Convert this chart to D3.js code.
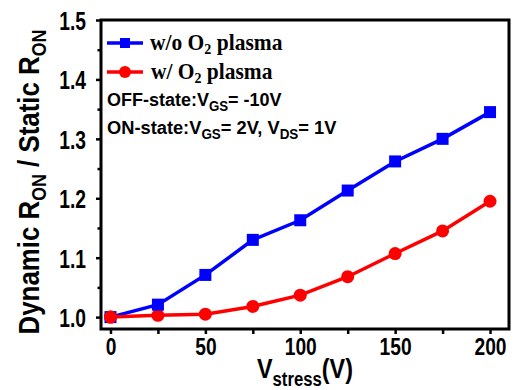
<!DOCTYPE html>
<html><head><meta charset="utf-8">
<script src="https://cdn.jsdelivr.net/npm/d3@7"></script>
<style>body{margin:0;background:#fff} svg{display:block}</style>
</head><body><svg id="chart" width="518" height="390"></svg>
<script>
// Stress voltage (V) and normalised dynamic on-resistance for both devices
const stressV   = [0, 25, 50, 75, 100, 125, 150, 175, 200];
const withoutO2 = [1.000, 1.021, 1.071, 1.130, 1.163, 1.213, 1.262, 1.300, 1.345];
const withO2    = [1.000, 1.003, 1.005, 1.018, 1.037, 1.068, 1.107, 1.145, 1.195];

const xTicks      = [0, 25, 50, 75, 100, 125, 150, 175, 200];
const xTickLabels = ["0", "", "50", "", "100", "", "150", "", "200"];
const yTicks      = [1.0, 1.05, 1.1, 1.15, 1.2, 1.25, 1.3, 1.35, 1.4, 1.45, 1.5];
const yTickLabels = ["1.0", "", "1.1", "", "1.2", "", "1.3", "", "1.4", "", "1.5"];

const seriesNames = ["w/o O", "w/ O"];

const svg = d3.select("#chart");
const L = 101, T = 20, R = 509, B = 329;

const x = d3.scaleLinear().domain([-5, 210]).range([L, R]);
const y = d3.scaleLinear().domain([0.98, 1.5]).range([B, T]);

const sans = "'Liberation Sans', Arial, sans-serif";
const serif = "'Liberation Serif', 'Times New Roman', serif";

// squeeze a single-run text element horizontally
function squeeze(sel, factor) {
  sel.each(function () {
    const w = this.getComputedTextLength();
    if (w > 0) d3.select(this).attr("textLength", w * factor).attr("lengthAdjust", "spacingAndGlyphs");
  });
}
// scale a multi-run text horizontally so it spans the given width, pivoting on ax
function fitWidth(t, width, ax) {
  const w = t.node().getBBox().width;
  const s = width / w;
  t.attr("transform", `translate(${ax},0) scale(${s},1) translate(${-ax},0)`);
}

// x axis
const xAxis = svg.append("g").attr("transform", `translate(0,${B})`)
  .call(d3.axisBottom(x).tickValues(xTicks).tickSize(5).tickPadding(4)
    .tickFormat((d, i) => xTickLabels[i]));
xAxis.select(".domain").remove();
xAxis.selectAll(".tick line").attr("stroke", "#000").attr("stroke-width", 2.5);
xAxis.selectAll(".tick text").attr("font-family", sans).attr("font-weight", "bold")
  .attr("font-size", 24).attr("fill", "#000").call(squeeze, 0.8);

// y axis
const yAxis = svg.append("g").attr("transform", `translate(${L},0)`)
  .call(d3.axisLeft(y).tickValues(yTicks).tickSize(5).tickPadding(10)
    .tickFormat((d, i) => yTickLabels[i]));
yAxis.select(".domain").remove();
yAxis.selectAll(".tick line").attr("stroke", "#000").attr("stroke-width", 2.5)
  .attr("x2", (d, i) => i % 2 ? -3.5 : -5);
yAxis.selectAll(".tick text").attr("font-family", sans).attr("font-weight", "bold")
  .attr("font-size", 26).attr("fill", "#000").attr("dy", "0.36em").call(squeeze, 0.74);

// frame
svg.append("rect").attr("x", L).attr("y", T).attr("width", R - L).attr("height", B - T)
  .attr("fill", "none").attr("stroke", "#000").attr("stroke-width", 3);

// series
const line = d3.line().x((d, i) => x(stressV[i])).y(d => y(d));

svg.append("path").datum(withoutO2).attr("d", line)
  .attr("fill", "none").attr("stroke", "#0000ff").attr("stroke-width", 3.5);
svg.append("path").datum(withO2).attr("d", line)
  .attr("fill", "none").attr("stroke", "#ff0000").attr("stroke-width", 3.5);

svg.append("g").selectAll("circle").data(withO2).join("circle")
  .attr("cx", (d, i) => x(stressV[i])).attr("cy", d => y(d)).attr("r", 6.5)
  .attr("fill", "#ff0000");
svg.append("g").selectAll("rect").data(withoutO2).join("rect")
  .attr("x", (d, i) => x(stressV[i]) - 6).attr("y", d => y(d) - 6)
  .attr("width", 12).attr("height", 12).attr("fill", "#0000ff");
// red start point sits on top of the blue one
svg.append("circle").attr("cx", x(stressV[0])).attr("cy", y(withO2[0])).attr("r", 6.5).attr("fill", "#ff0000");

// legend
const leg = svg.append("g");
[[43, "#0000ff", "sq", seriesNames[0], 150, 133], [72, "#ff0000", "ci", seriesNames[1], 151, 122]].forEach(([ly, c, m, name, tx, tw]) => {
  leg.append("line").attr("x1", 107).attr("x2", 143).attr("y1", ly).attr("y2", ly)
    .attr("stroke", c).attr("stroke-width", 3.5);
  if (m === "sq") leg.append("rect").attr("x", 120).attr("y", ly - 5).attr("width", 10).attr("height", 10).attr("fill", c);
  else leg.append("circle").attr("cx", 125).attr("cy", ly).attr("r", 6).attr("fill", c);
  const t = leg.append("text").attr("x", tx).attr("y", ly + 7)
    .attr("font-family", serif).attr("font-weight", "bold").attr("font-size", 23).attr("fill", "#000");
  t.append("tspan").text(name);
  t.append("tspan").attr("font-size", 15).attr("dy", 4).text("2");
  t.append("tspan").attr("dy", -4).text(" plasma");
  fitWidth(t, tw, tx);
});

// bias conditions
function subText(xp, yp, parts) {
  const t = svg.append("text").attr("x", xp).attr("y", yp)
    .attr("font-family", sans).attr("font-weight", "bold").attr("font-size", 19).attr("fill", "#000");
  let lowered = false;
  parts.forEach(([s, sub]) => {
    const dy = sub ? (lowered ? 0 : 5) : (lowered ? -5 : 0);
    lowered = !!sub;
    t.append("tspan").attr("font-size", sub ? 14 : 19).attr("dy", dy).text(s);
  });
  return t;
}
const off = subText(107, 106, [["OFF-state:V", 0], ["GS", 1], ["= -10V", 0]]);
fitWidth(off, 175, 107);
const on = subText(107, 134, [["ON-state:V", 0], ["GS", 1], ["= 2V, V", 0], ["DS", 1], ["= 1V", 0]]);
fitWidth(on, 230, 107);

// axis titles
const xt = svg.append("text").attr("x", 257).attr("y", 378)
  .attr("font-family", sans).attr("font-weight", "bold").attr("font-size", 28).attr("fill", "#000");
xt.append("tspan").text("V");
xt.append("tspan").attr("font-size", 20).attr("dy", 8).text("stress");
xt.append("tspan").attr("dy", -8).text("(V)");
fitWidth(xt, 96, 257);

const ytg = svg.append("g").attr("transform", "translate(39,182) rotate(-90)");
const yt = ytg.append("text").attr("x", 0).attr("y", 0).attr("text-anchor", "middle")
  .attr("font-family", sans).attr("font-weight", "bold").attr("font-size", 29).attr("fill", "#000");
yt.append("tspan").text("Dynamic R");
yt.append("tspan").attr("font-size", 20).attr("dy", 7).text("ON");
yt.append("tspan").attr("dy", -7).text(" / Static R");
yt.append("tspan").attr("font-size", 20).attr("dy", 7).text("ON");
fitWidth(yt, 305, 0);
</script></body></html>
